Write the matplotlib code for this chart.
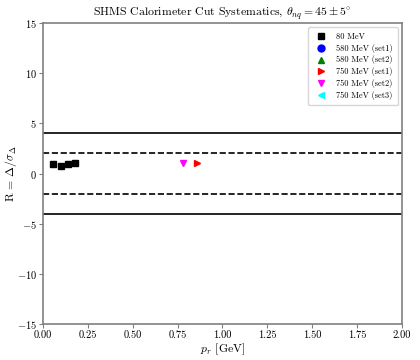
import matplotlib
matplotlib.use("Agg")
import matplotlib.pyplot as plt

plt.rcParams['font.family'] = 'serif'
plt.rcParams['font.serif'] = ['cmr10']
plt.rcParams['mathtext.fontset'] = 'cm'
plt.rcParams['axes.formatter.use_mathtext'] = True

# data
pt_80 = [0.057, 0.10, 0.141, 0.178]
R_80 = [0.96, 0.73, 0.96, 1.06]
pt_580_1, R_580_1 = [], []
pt_580_2, R_580_2 = [], []
pt_750_1 = [0.856]
R_750_1 = [1.0]
pt_750_2 = [0.778]
R_750_2 = [1.06]
pt_750_3, R_750_3 = [], []

fig, ax = plt.subplots(figsize=(4.2, 3.6), dpi=100)
fig.subplots_adjust(left=0.102, right=0.957, top=0.936, bottom=0.1)

ax.plot(pt_80, R_80, 's', color='black', ms=5, label='80 MeV')
ax.plot(pt_580_1, R_580_1, 'o', color='blue', ms=5, label='580 MeV (set1)')
ax.plot(pt_580_2, R_580_2, '^', color='green', ms=5, label='580 MeV (set2)')
ax.plot(pt_750_1, R_750_1, '>', color='red', ms=5, label='750 MeV (set1)')
ax.plot(pt_750_2, R_750_2, 'v', color='magenta', ms=5, label='750 MeV (set2)')
ax.plot(pt_750_3, R_750_3, '<', color='cyan', ms=5, label='750 MeV (set3)')

for y in [4, -4]:
    ax.axhline(y, color='black', lw=1.2)
for y in [2, -2]:
    ax.axhline(y, color='black', lw=1.2, ls='--')

ax.set_xlim(0, 2.0)
ax.set_ylim(-15, 15)
ax.set_xticks([0, 0.25, 0.5, 0.75, 1.0, 1.25, 1.5, 1.75, 2.0])
ax.set_xticklabels(['0.00', '0.25', '0.50', '0.75', '1.00', '1.25', '1.50', '1.75', '2.00'])
ax.set_yticks([-15, -10, -5, 0, 5, 10, 15])
ax.tick_params(labelsize=7.5, length=3, pad=1.5, color='gray')
for s in ax.spines.values():
    s.set_color('gray')
    s.set_linewidth(1.2)

ax.set_title(r'SHMS Calorimeter Cut Systematics, $\theta_{nq} = 45 \pm 5^{\circ}$', fontsize=8.5, pad=5)
ax.set_xlabel(r'$p_r$ [GeV]', fontsize=8.5, labelpad=1)
ax.set_ylabel(r'R = $\Delta/\sigma_{\Delta}$', fontsize=8.5)
ax.yaxis.set_label_coords(-0.065, 0.5)
ax.legend(loc='upper right', fontsize=6, handletextpad=0.8, borderpad=0.6, labelspacing=0.35)

fig.savefig('out.png', dpi=100)
